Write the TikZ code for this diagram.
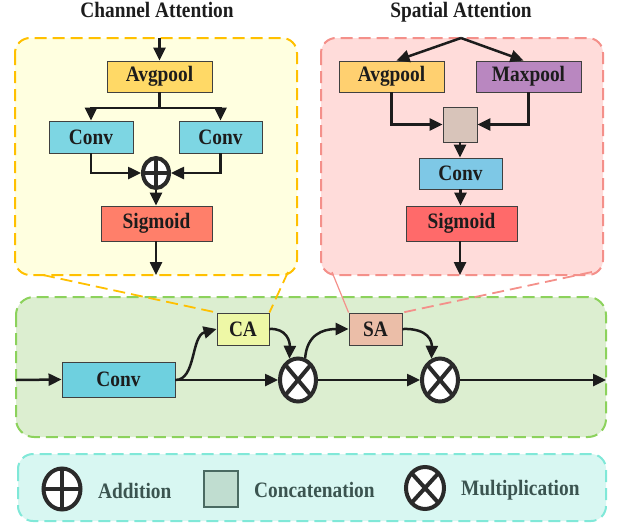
\documentclass[tikz,border=0pt]{standalone}
\usepackage{fontspec}
\setmainfont{Liberation Serif}[FakeStretch=0.88]
\usetikzlibrary{arrows.meta,shapes.geometric}

% palette
\definecolor{caFill}{HTML}{FFFFE0}
\definecolor{caLine}{HTML}{FFC000}
\definecolor{saFill}{HTML}{FFDCDA}
\definecolor{saLine}{HTML}{F4908A}
\definecolor{mainFill}{HTML}{DCEED0}
\definecolor{mainLine}{HTML}{8CD25C}
\definecolor{legFill}{HTML}{D8F7F2}
\definecolor{legLine}{HTML}{80E8D8}
\definecolor{avgA}{HTML}{FFD966}
\definecolor{avgB}{HTML}{FFD070}
\definecolor{maxC}{HTML}{B987C0}
\definecolor{convA}{HTML}{7DD6E3}
\definecolor{convB}{HTML}{7EC8E6}
\definecolor{convC}{HTML}{6ED0DF}
\definecolor{sigA}{HTML}{FF7F6A}
\definecolor{sigB}{HTML}{FF6A6A}
\definecolor{catC}{HTML}{D8C4BA}
\definecolor{caBox}{HTML}{EEF8A6}
\definecolor{saBox}{HTML}{EBBEA8}
\definecolor{legSq}{HTML}{C0DDD0}
\definecolor{legSqLine}{HTML}{4A6A62}
\definecolor{legText}{HTML}{3B5450}
\definecolor{ink}{HTML}{1C1C1C}
\definecolor{ringC}{HTML}{2A2A2A}

\tikzset{
  lbl/.style={font=\bfseries\fontsize{22}{24}\selectfont, text=ink},
  blk/.style={lbl, draw=black!75, line width=0.9pt, inner sep=0pt,
    minimum width=#1},
  panel/.style={rounded corners=15pt, line width=2pt, dash pattern=on 12pt off 6pt},
  flow/.style={draw=ink, line width=2.5pt, -{Triangle[length=13pt,width=12pt]}},
  wire/.style={draw=ink, line width=2.5pt},
  ring/.style={ellipse, draw=ringC, fill=white, line width=4pt, inner sep=0pt},
  addop/.style={ring, path picture={
      \draw[ringC, line width=4pt]
        (path picture bounding box.north) -- (path picture bounding box.south)
        (path picture bounding box.west) -- (path picture bounding box.east);}},
  mulop/.style={ring, path picture={
      \draw[ringC, line width=4pt]
        (path picture bounding box.north west) -- (path picture bounding box.south east)
        (path picture bounding box.south west) -- (path picture bounding box.north east);}},
  legtxt/.style={font=\bfseries\fontsize{22}{24}\selectfont, text=legText, anchor=west, inner sep=0pt},
}

\begin{document}
\begin{tikzpicture}[x=1pt, y=-1pt]
\useasboundingbox (0,0) rectangle (618,525);

% ---------- panels ----------
\draw[panel, fill=caFill, draw=caLine] (15,38) rectangle (297,275);
\draw[panel, fill=saFill, draw=saLine] (321,38) rectangle (603,275);
\draw[panel, rounded corners=18pt, fill=mainFill, draw=mainLine] (16,297) rectangle (606,437);
\draw[panel, fill=legFill, draw=legLine] (18,454) rectangle (606,521);

% ---------- titles ----------
\node[lbl, anchor=base] (tca) at (157,17) {Channel Attention};
\node[lbl, anchor=base] (tsa) at (461,17) {Spatial Attention};

% ---------- channel attention ----------
\node[blk=105pt, minimum height=31pt, fill=avgA] (avg1) at (159.5,76.5) {Avgpool};
\node[blk=84pt, minimum height=32pt, fill=convA] (convL) at (91,137) {Conv};
\node[blk=83pt, minimum height=32pt, fill=convA] (convR) at (220.5,137) {Conv};
\node[addop, minimum width=26pt, minimum height=30pt] (plus) at (156,173) {};
\node[blk=111pt, minimum height=35pt, fill=sigA] (sig1) at (156.5,223.5) {Sigmoid};
\coordinate (caIn) at (159.5,38);
\coordinate (caSplit) at (159.5,108);
\coordinate (caOut) at (156,275);

\draw[flow] (caIn) -- (avg1.north);
\draw[wire] (avg1.south) -- (caSplit);
\draw[flow] (caSplit) -| (convL.north);
\draw[flow] (caSplit) -| (convR.north);
\draw[flow] (convL.south) |- (plus.west);
\draw[flow] (convR.south) |- (plus.east);
\draw[flow] (plus.south) -- (plus.south |- sig1.north);
\draw[flow] (sig1.south -| caOut) -- (caOut);

% ---------- spatial attention ----------
\node[blk=105pt, minimum height=31pt, fill=avgB] (avg2) at (391.5,76.5) {Avgpool};
\node[blk=105pt, minimum height=31pt, fill=maxC] (max2) at (528.5,76.5) {Maxpool};
\node[draw=black!75, line width=0.9pt, fill=catC, minimum width=34pt, minimum height=35pt, inner sep=0pt] (cat) at (460,124.5) {};
\node[blk=83pt, minimum height=31pt, fill=convB] (conv2) at (460.5,173.5) {Conv};
\node[blk=111pt, minimum height=35pt, fill=sigB] (sig2) at (461.5,223.5) {Sigmoid};
\coordinate (saIn) at (461,38);
\coordinate (saOut) at (460,275);

\draw[flow] (saIn) -- ([xshift=5pt]avg2.north);
\draw[flow] (saIn) -- ([xshift=-5pt]max2.north);
\draw[flow] (avg2.south) |- (cat.west);
\draw[flow] (max2.south) |- (cat.east);
\draw[flow] (cat.south) -- (cat.south |- conv2.north);
\draw[flow] (conv2.south) -- (conv2.south |- sig2.north);
\draw[flow] (sig2.south -| saOut) -- (saOut);

% ---------- main path ----------
\node[blk=113pt, minimum height=35pt, fill=convC] (conv3) at (118.5,379.5) {Conv};
\node[blk=52pt, minimum height=32pt, fill=caBox] (ca) at (243,329) {CA};
\node[blk=53pt, minimum height=32pt, fill=saBox] (sa) at (375.5,329) {SA};
\node[mulop, minimum width=36pt, minimum height=43pt] (m1) at (298,380) {};
\node[mulop, minimum width=36pt, minimum height=43pt] (m2) at (440,380) {};
\coordinate (inL) at (16,380);
\coordinate (outR) at (606,380);

% zoom guides from the panels to their blocks
\coordinate (caZl) at (43,275);
\coordinate (caZr) at (288,272);
\coordinate (saZl) at (332,272);
\coordinate (saZr) at (592,272);
\draw[caLine, line width=1.8pt, dash pattern=on 12pt off 6pt] (caZl) -- (ca.north west);
\draw[caLine, line width=1.8pt, dash pattern=on 12pt off 6pt] (caZr) -- (ca.north east);
\draw[saLine, line width=1.2pt] (saZl) -- (sa.north west);
\draw[saLine, line width=1.8pt, dash pattern=on 12pt off 6pt] (saZr) -- (sa.north east);

\draw[flow] (inL) -- (conv3.west);
\draw[flow] (conv3.east |- m1.west) -- (m1.west);
\draw[flow] (m1.east) -- (m2.west);
\draw[flow] (m2.east) -- (outR);
\draw[flow] (conv3.east |- m1.west) .. controls (196,380) and (191,336) .. (ca.west);
\draw[flow] (ca.east) .. controls (287,328) and (290,342) .. (m1.112);
\draw[flow] (m1.72) .. controls (307,335) and (322,329) .. (sa.west);
\draw[flow] (sa.east) .. controls (429,328) and (432,342) .. (m2.112);

% ---------- legend ----------
\node[addop, minimum width=37pt, minimum height=41pt] (lgAdd) at (62,489) {};
\node[legtxt] (lgAddT) at (98,491) {Addition};
\node[draw=legSqLine, line width=1.2pt, fill=legSq, minimum width=34pt, minimum height=36pt, inner sep=0pt] (lgCat) at (221,489) {};
\node[legtxt] (lgCatT) at (254,490) {Concatenation};
\node[mulop, minimum width=38pt, minimum height=42pt] (lgMul) at (425,488) {};
\node[legtxt] (lgMulT) at (461,490) {Multiplication};
\end{tikzpicture}
\end{document}
